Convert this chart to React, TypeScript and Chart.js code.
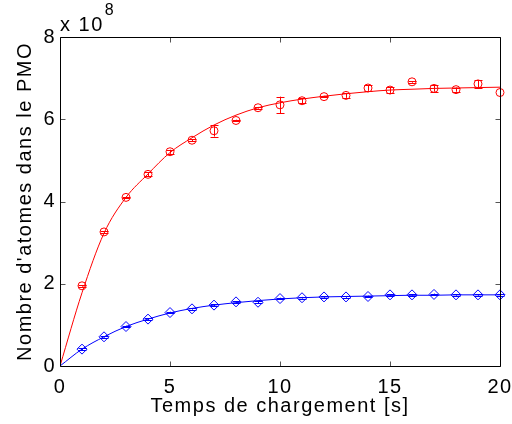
import React, { useEffect, useRef } from "react";
import { Chart, registerables } from "chart.js";

Chart.register(...registerables);

// ---- data (values in units of 1e8 atoms) ----
const TIMES = [1, 2, 3, 4, 5, 6, 7, 8, 9, 10, 11, 12, 13, 14, 15, 16, 17, 18, 19, 20];
const RED_VALUES = [1.95, 3.26, 4.1, 4.66, 5.21, 5.49, 5.72, 5.97, 6.28, 6.35, 6.45, 6.55, 6.58, 6.76, 6.71, 6.91, 6.75, 6.72, 6.86, 6.65];
const RED_ERRORS = [0.02, 0.02, 0.02, 0.05, 0.05, 0.02, 0.14, 0.02, 0.02, 0.2, 0.06, 0.02, 0.06, 0.07, 0.07, 0.02, 0.08, 0.05, 0.09, 0];
const BLUE_VALUES = [0.41, 0.71, 0.96, 1.14, 1.3, 1.39, 1.48, 1.56, 1.55, 1.64, 1.66, 1.68, 1.68, 1.69, 1.73, 1.73, 1.74, 1.73, 1.73, 1.73];
const BLUE_ERRORS = [0.02, 0.02, 0.02, 0.02, 0.02, 0.02, 0.02, 0.02, 0.02, 0.02, 0.02, 0.02, 0.02, 0.02, 0.02, 0.02, 0.02, 0.02, 0.02, 0.02];
const FIT_TIMES = [0, 1, 2, 3, 4, 5, 6, 7, 8, 9, 10, 11, 12, 13, 14, 15, 16, 17, 18, 19, 20];
const RED_FIT = [0, 1.78, 3.23, 4.1, 4.67, 5.19, 5.55, 5.86, 6.1, 6.28, 6.4, 6.49, 6.56, 6.62, 6.67, 6.71, 6.73, 6.75, 6.76, 6.77, 6.78];
const BLUE_FIT = [0, 0.41, 0.71, 0.96, 1.14, 1.29, 1.4, 1.48, 1.54, 1.59, 1.63, 1.66, 1.68, 1.69, 1.7, 1.71, 1.72, 1.72, 1.73, 1.73, 1.73];
const X_TICKS = [0, 5, 10, 15, 20];
const Y_TICKS = [0, 2, 4, 6, 8];
const X_TITLE = "Temps de chargement [s]";
const Y_TITLE = "Nombre d'atomes dans le PMO";
const EXP_BASE = "x 10";
const EXP_POWER = "8";

const FONT = "'Liberation Sans', Arial, Helvetica, sans-serif";
const SPACING = "1.5px";

const spacingPlugin = {
  id: "spacing",
  beforeLayout(chart: any) {
    chart.ctx.letterSpacing = SPACING;
  },
  beforeDraw(chart: any) {
    chart.ctx.letterSpacing = SPACING;
  },
};

const errorBarPlugin = {
  id: "errorBars",
  afterDatasetsDraw(chart: any) {
    const ctx = chart.ctx;
    const xs = chart.scales.x;
    const ys = chart.scales.y;
    chart.data.datasets.forEach((ds: any) => {
      if (!ds.errors) return;
      ctx.save();
      ctx.strokeStyle = ds.borderColor;
      ctx.lineWidth = 1;
      ds.data.forEach((p: any, i: number) => {
        const e = ds.errors[i];
        if (!e) return;
        const px = Math.round(xs.getPixelForValue(p.x)) + 0.5;
        const y1 = ys.getPixelForValue(p.y - e);
        const y2 = ys.getPixelForValue(p.y + e);
        ctx.beginPath();
        ctx.moveTo(px, y1);
        ctx.lineTo(px, y2);
        ctx.moveTo(px - 4, Math.round(y1) + 0.5);
        ctx.lineTo(px + 4, Math.round(y1) + 0.5);
        ctx.moveTo(px - 4, Math.round(y2) + 0.5);
        ctx.lineTo(px + 4, Math.round(y2) + 0.5);
        ctx.stroke();
      });
      ctx.restore();
    });
  },
};

const framePlugin = {
  id: "frame",
  afterDraw(chart: any) {
    const ctx = chart.ctx;
    const { left, right, top, bottom } = chart.chartArea;
    const xs = chart.scales.x;
    const ys = chart.scales.y;
    ctx.save();
    const L = Math.round(left) + 0.5;
    const R = Math.round(right) + 0.5;
    const T = Math.round(top) + 0.5;
    const B = Math.round(bottom) + 0.5;
    // inward ticks
    ctx.strokeStyle = "#555";
    ctx.lineWidth = 1;
    ctx.beginPath();
    X_TICKS.forEach((v) => {
      const px = Math.round(xs.getPixelForValue(v)) + 0.5;
      ctx.moveTo(px, B);
      ctx.lineTo(px, B - 5);
      ctx.moveTo(px, T);
      ctx.lineTo(px, T + 5);
    });
    Y_TICKS.forEach((v) => {
      const py = Math.round(ys.getPixelForValue(v)) + 0.5;
      ctx.moveTo(L, py);
      ctx.lineTo(L + 5, py);
      ctx.moveTo(R, py);
      ctx.lineTo(R - 5, py);
    });
    ctx.stroke();
    // box
    ctx.strokeStyle = "#000";
    ctx.beginPath();
    ctx.rect(L, T, R - L, B - T);
    ctx.stroke();
    // exponent label
    ctx.letterSpacing = SPACING;
    ctx.fillStyle = "#000";
    ctx.textBaseline = "alphabetic";
    ctx.textAlign = "left";
    ctx.font = `20px ${FONT}`;
    ctx.fillText(EXP_BASE, L - 0.5, 31);
    const w = ctx.measureText(EXP_BASE).width;
    ctx.font = `16px ${FONT}`;
    ctx.fillText(EXP_POWER, L - 0.5 + w + 1, 15);
    ctx.restore();
  },
};

export default function App() {
  const ref = useRef<HTMLCanvasElement | null>(null);

  useEffect(() => {
    document.body.style.margin = "0";
    const canvas = ref.current;
    if (!canvas) return;
    const chart = new Chart(canvas, {
      type: "line",
      data: {
        datasets: [
          {
            label: "fit rouge",
            data: FIT_TIMES.map((t, i) => ({ x: t, y: RED_FIT[i] })),
            borderColor: "#ff0000",
            borderWidth: 1,
            pointRadius: 0,
            cubicInterpolationMode: "monotone",
            fill: false,
          },
          {
            label: "mesures rouge",
            data: TIMES.map((t, i) => ({ x: t, y: RED_VALUES[i] })),
            errors: RED_ERRORS,
            borderColor: "#ff0000",
            backgroundColor: "rgba(0,0,0,0)",
            showLine: false,
            pointStyle: "circle",
            pointRadius: 4,
            pointBorderWidth: 1,
            clip: false,
          } as any,
          {
            label: "fit bleu",
            data: FIT_TIMES.map((t, i) => ({ x: t, y: BLUE_FIT[i] })),
            borderColor: "#0000ff",
            borderWidth: 1,
            pointRadius: 0,
            cubicInterpolationMode: "monotone",
            fill: false,
          },
          {
            label: "mesures bleu",
            data: TIMES.map((t, i) => ({ x: t, y: BLUE_VALUES[i] })),
            errors: BLUE_ERRORS,
            borderColor: "#0000ff",
            backgroundColor: "rgba(0,0,0,0)",
            showLine: false,
            pointStyle: "rectRot",
            pointRadius: 5,
            pointBorderWidth: 1,
            clip: false,
          } as any,
        ],
      },
      options: {
        animation: false,
        responsive: false,
        devicePixelRatio: 1,
        layout: { padding: { left: 0, top: 37, right: 12, bottom: 0 } },
        plugins: {
          legend: { display: false },
          tooltip: { enabled: false },
        },
        scales: {
          x: {
            type: "linear",
            min: 0,
            max: 20,
            afterFit: (s: any) => {
              s.height = 58;
              s.paddingLeft = 0;
              s.paddingRight = 0;
            },
            afterBuildTicks: (s: any) => {
              s.ticks = X_TICKS.map((v) => ({ value: v }));
            },
            grid: { display: false, drawTicks: false },
            border: { display: false },
            ticks: {
              font: { family: FONT, size: 20 },
              color: "#000",
              padding: 9,
              maxRotation: 0,
            },
            title: {
              display: true,
              text: X_TITLE,
              font: { family: FONT, size: 20 },
              color: "#000",
              padding: { top: 0, bottom: 6 },
            },
          },
          y: {
            type: "linear",
            min: 0,
            max: 8,
            afterFit: (s: any) => {
              s.width = 60;
              s.paddingTop = 0;
              s.paddingBottom = 0;
            },
            afterBuildTicks: (s: any) => {
              s.ticks = Y_TICKS.map((v) => ({ value: v }));
            },
            grid: { display: false, drawTicks: false },
            border: { display: false },
            ticks: {
              font: { family: FONT, size: 20 },
              color: "#000",
              padding: 4,
            },
            title: {
              display: true,
              text: Y_TITLE,
              font: { family: FONT, size: 20 },
              color: "#000",
              padding: { top: 13, bottom: 0 },
            },
          },
        },
      },
      plugins: [spacingPlugin, errorBarPlugin, framePlugin],
    } as any);
    return () => chart.destroy();
  }, []);

  return (
    <div style={{ position: "absolute", left: 0, top: 0, width: 512, height: 424, background: "#fff" }}>
      <canvas ref={ref} width={512} height={424} />
    </div>
  );
}
